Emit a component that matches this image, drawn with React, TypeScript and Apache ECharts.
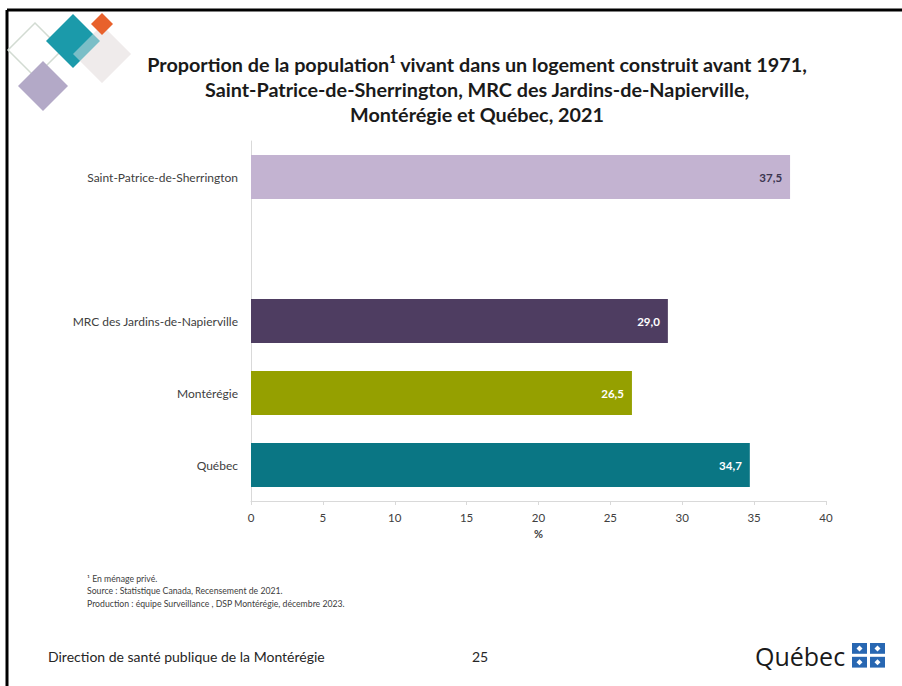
import React, { useEffect, useRef } from "react";
import * as echarts from "echarts";

const categories = [
  "Saint-Patrice-de-Sherrington",
  "",
  "MRC des Jardins-de-Napierville",
  "Montérégie",
  "Québec",
];
const values: (number | null)[] = [37.5, null, 29.0, 26.5, 34.7];
const barColors = ["#C3B3D1", "#FFFFFF", "#4E3D61", "#95A000", "#0A7684"];
const labelColors = ["#3B3550", "#FFFFFF", "#FFFFFF", "#FFFFFF", "#FFFFFF"];
const xTicks = { min: 0, max: 40, interval: 5 };

const titleLines = [
  "Proportion de la population¹ vivant dans un logement construit avant 1971,",
  "Saint-Patrice-de-Sherrington, MRC des Jardins-de-Napierville,",
  "Montérégie et Québec, 2021",
];
const footnotes = [
  "¹ En ménage privé.",
  "Source : Statistique Canada, Recensement de 2021.",
  "Production : équipe Surveillance , DSP Montérégie, décembre 2023.",
];

const FONT = "Lato, 'Noto Sans', sans-serif";

function diamond(cx: number, cy: number, r: number) {
  return [
    [cx, cy - r],
    [cx + r, cy],
    [cx, cy + r],
    [cx - r, cy],
  ];
}

export default function App() {
  const ref = useRef<HTMLDivElement>(null);
  useEffect(() => {
    if (!ref.current) return;
    const chart = echarts.init(ref.current, null, { renderer: "svg" });

    const flagSquares: any[] = [];
    const fx = 852, fy = 643, fs = 15, gap = 3;
    for (let i = 0; i < 2; i++) {
      for (let j = 0; j < 2; j++) {
        const x = fx + j * (fs + gap);
        const y = fy + i * (fs * 0.72 + gap);
        flagSquares.push({
          type: "rect",
          shape: { x, y, width: fs, height: fs * 0.72 },
          style: { fill: "#2867B2" },
        });
        flagSquares.push({
          type: "polygon",
          shape: { points: diamond(x + fs / 2, y + fs * 0.36, 3) },
          style: { fill: "#FFFFFF" },
        });
      }
    }

    chart.setOption({
      animation: false,
      backgroundColor: "#FFFFFF",
      title: {
        text: titleLines.join("\n"),
        left: 472,
        top: 46,
        textAlign: "center",
        textStyle: {
          fontFamily: FONT,
          fontWeight: "bold",
          fontSize: 19.8,
          lineHeight: 25,
          color: "#1A1A1A",
        },
      },
      grid: { left: 251, right: 76, top: 141, height: 360, containLabel: false },
      xAxis: {
        type: "value",
        min: xTicks.min,
        max: xTicks.max,
        interval: xTicks.interval,
        name: "%",
        nameLocation: "middle",
        nameGap: 26,
        nameTextStyle: { fontFamily: FONT, fontWeight: "bold", fontSize: 11, color: "#404040" },
        splitLine: { show: false },
        axisLine: { show: true, lineStyle: { color: "#D9D9D9", width: 1 } },
        axisTick: { show: true, length: 4, lineStyle: { color: "#D9D9D9" } },
        axisLabel: { fontFamily: FONT, fontSize: 11.5, color: "#404040", margin: 10 },
      },
      yAxis: {
        type: "category",
        inverse: true,
        data: categories,
        axisLine: { show: true, lineStyle: { color: "#D9D9D9", width: 1 } },
        axisTick: { show: false },
        axisLabel: { fontFamily: FONT, fontSize: 12, color: "#404040", margin: 13 },
      },
      series: [
        {
          type: "bar",
          barWidth: 44,
          data: values.map((v, i) => ({
            value: v,
            itemStyle: { color: barColors[i] },
            label: { color: labelColors[i] },
          })),
          label: {
            show: true,
            position: "insideRight",
            distance: 8,
            fontFamily: FONT,
            fontWeight: "bold",
            fontSize: 11.5,
            formatter: (p: any) =>
              p.value == null ? "" : Number(p.value).toFixed(1).replace(".", ","),
          },
        },
      ],
      graphic: [
        // frame
        { type: "line", shape: { x1: 7, y1: 10, x2: 902, y2: 10 }, style: { stroke: "#000", lineWidth: 3 } },
        { type: "line", shape: { x1: 7, y1: 10, x2: 7, y2: 686 }, style: { stroke: "#000", lineWidth: 3 } },
        // decorative diamonds
        { type: "polygon", shape: { points: diamond(35, 50, 27) }, style: { fill: "none", stroke: "#D2DBD2", lineWidth: 1.5 } },
        { type: "polygon", shape: { points: diamond(102, 54, 29) }, style: { fill: "#EFECEB" } },
        { type: "polygon", shape: { points: diamond(73, 41, 27) }, style: { fill: "#1B9AAA" } },
        { type: "polygon", shape: { points: diamond(102, 54, 29) }, style: { fill: "rgba(239,236,235,0.45)" } },
        { type: "polygon", shape: { points: diamond(102, 24, 11) }, style: { fill: "#E8612C" } },
        { type: "polygon", shape: { points: diamond(43, 86, 25) }, style: { fill: "#B3A9C7" } },
        // footnotes
        ...footnotes.map((t, i) => ({
          type: "text",
          x: 87,
          y: 578 + i * 12.5,
          style: { text: t, fontFamily: FONT, fontSize: 8.7, fill: "#404040", textVerticalAlign: "middle" },
        })),
        // footer
        {
          type: "text",
          x: 48,
          y: 656,
          style: {
            text: "Direction de santé publique de la Montérégie",
            fontFamily: FONT,
            fontSize: 14,
            fill: "#262626",
            textVerticalAlign: "middle",
          },
        },
        {
          type: "text",
          x: 480,
          y: 656,
          style: { text: "25", fontFamily: FONT, fontSize: 14, fill: "#262626", textAlign: "center", textVerticalAlign: "middle" },
        },
        {
          type: "text",
          x: 755,
          y: 656,
          style: { text: "Québec", fontFamily: "'Open Sans', 'Noto Sans', sans-serif", fontSize: 25, fill: "#1A1A1A", textVerticalAlign: "middle" },
        },
        ...flagSquares,
      ],
    });
    return () => chart.dispose();
  }, []);
  return (
    <div
      ref={ref}
      style={{ position: "fixed", left: 0, top: 0, width: 902, height: 686 }}
    />
  );
}
